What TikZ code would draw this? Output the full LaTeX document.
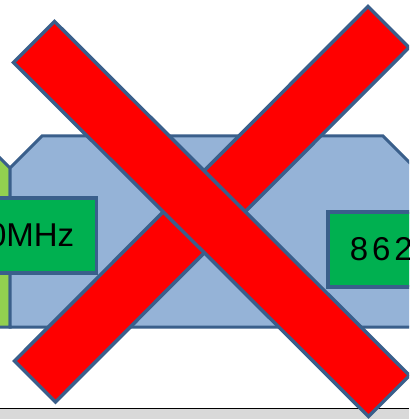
\documentclass[tikz,border=0pt]{standalone}
\usepackage{fontspec}
\setmainfont{Liberation Sans}

\definecolor{edgeblue}{HTML}{3A5F8B}
\definecolor{bandblue}{HTML}{95B3D7}
\definecolor{bandgreen}{HTML}{92D050}
\definecolor{freqgreen}{HTML}{00B050}
\definecolor{barred}{HTML}{FF0000}
\definecolor{stripgray}{HTML}{D9D9D9}

\tikzset{
  band/.style={draw=edgeblue, line width=3pt, line join=miter},
  freqbox/.style={draw=edgeblue, fill=freqgreen, line width=3.5pt,
    inner xsep=23pt, inner ysep=0pt, minimum height=75pt,
    font=\fontsize{33}{40}\selectfont},
  crossbar/.style={draw=edgeblue, fill=barred, line width=3.5pt, line join=miter}
}

\begin{document}
\begin{tikzpicture}[x=1pt, y=-1pt]

\useasboundingbox (0,0) rectangle (409,419);
\clip (0,0) rectangle (409,419);
\fill[white] (0,0) rectangle (409,419);

% status strip at the bottom
\fill[stripgray] (0,408) rectangle (409,419);
\draw[black, line width=1.2pt] (0,408.5) -- (409,408.5);

% snipped bands, neighbour first
\draw[band, fill=bandgreen] (-80,136) -- (-22,136) -- (10,168) -- (10,327) -- (-80,327) -- cycle;
\draw[band, fill=bandblue] (42,136) -- (383,136) -- (415,168) -- (415,327) -- (10,327) -- (10,168) -- cycle;

% frequency labels
\node[freqbox, anchor=east, inner xsep=22pt] (low) at (98,235.5) {0MHz};
\node[freqbox, anchor=west, inner xsep=22pt] (high) at (326,249.5) {\addfontfeature{LetterSpace=12}862};

% the cross: rising bar first, falling bar on top
\draw[crossbar] (368,6.5) -- (409,47.5) -- (55.5,402) -- (14.5,361) -- cycle;
\draw[crossbar] (54.5,21.5) -- (409.5,375.5) -- (368.5,416.5) -- (13.5,62.5) -- cycle;

\end{tikzpicture}
\end{document}
